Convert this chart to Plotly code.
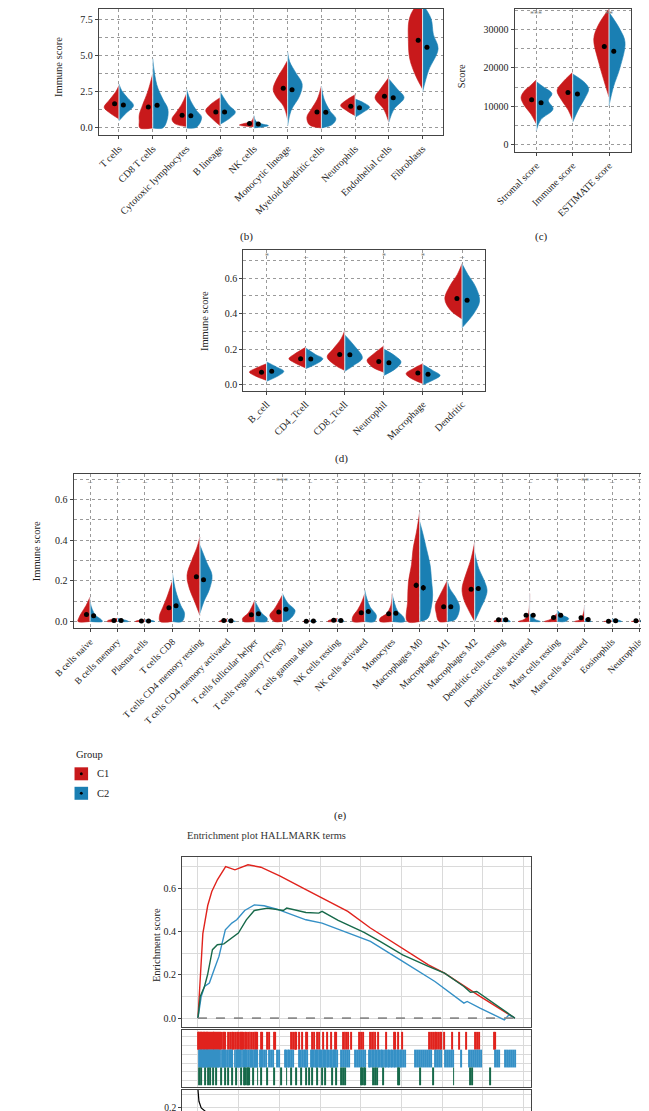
import plotly.graph_objects as go

W, H = 649, 1111
RED = "#C8191B"
BLUE = "#1A7FB3"
CENTER = "#dbe8ef"
GRID = "#9a9a9a"
FRAME = "#444444"
FONT = "Liberation Serif"
TXT = "#222222"

# ------------------------- data -------------------------
# (b)
b_cats = ["T cells", "CD8 T cells", "Cytotoxic lymphocytes", "B lineage", "NK cells",
          "Monocytic lineage", "Myeloid dendritic cells", "Neutrophils", "Endothelial cells", "Fibroblasts"]
b_c1_mean = [1.67, 1.45, 0.88, 1.10, 0.30, 2.75, 1.10, 1.50, 2.20, 6.10]
b_c2_mean = [1.60, 1.58, 0.85, 1.10, 0.27, 2.65, 1.08, 1.40, 2.10, 5.60]
b_se = [0.06, 0.10, 0.06, 0.06, 0.02, 0.08, 0.07, 0.05, 0.06, 0.14]
# violin half profiles: [value, half-width]
b_c1_prof = [
    [[0.62, 0], [1.0, 0.25], [1.43, 0.44], [1.9, 0.3], [2.5, 0.1], [2.95, 0]],
    [[0.0, 0], [0.0, 0.38], [0.5, 0.4], [0.9, 0.4], [1.6, 0.3], [2.5, 0.15], [3.75, 0]],
    [[0.1, 0], [0.3, 0.35], [0.62, 0.43], [1.0, 0.33], [1.6, 0.15], [2.36, 0]],
    [[0.15, 0], [0.6, 0.22], [1.2, 0.43], [1.6, 0.3], [2.1, 0]],
    [[0.08, 0], [0.15, 0.35], [0.2, 0.43], [0.3, 0.3], [0.45, 0.08], [0.8, 0]],
    [[0.6, 0], [1.5, 0.12], [2.2, 0.35], [2.7, 0.43], [3.5, 0.3], [4.2, 0.12], [4.7, 0]],
    [[0.0, 0], [0.2, 0.35], [0.74, 0.43], [1.3, 0.3], [2.0, 0.12], [2.9, 0]],
    [[0.85, 0], [1.2, 0.25], [1.55, 0.43], [1.9, 0.28], [2.3, 0]],
    [[0.4, 0], [1.3, 0.15], [2.1, 0.41], [2.7, 0.25], [3.5, 0]],
    [[2.7, 0], [3.6, 0.2], [4.8, 0.38], [6.0, 0.42], [7.5, 0.4], [8.3, 0.25], [8.9, 0]],
]
b_c2_prof = [
    [[0.5, 0], [1.0, 0.2], [1.55, 0.43], [2.1, 0.25], [2.6, 0.08], [3.05, 0]],
    [[0.0, 0], [0.0, 0.3], [0.5, 0.42], [1.3, 0.45], [2.0, 0.3], [3.0, 0.12], [4.8, 0]],
    [[0.0, 0], [0.05, 0.3], [0.74, 0.45], [1.2, 0.3], [1.9, 0.12], [2.7, 0]],
    [[0.25, 0], [0.7, 0.3], [1.1, 0.45], [1.6, 0.25], [2.5, 0]],
    [[0.0, 0], [0.1, 0.35], [0.16, 0.43], [0.3, 0.2], [0.5, 0.05], [0.85, 0]],
    [[0.15, 0], [1.2, 0.1], [2.2, 0.35], [3.05, 0.43], [3.8, 0.25], [4.6, 0.06], [5.25, 0]],
    [[0.0, 0], [0.2, 0.3], [0.62, 0.43], [1.2, 0.25], [2.0, 0.08], [2.9, 0]],
    [[0.74, 0], [1.1, 0.25], [1.43, 0.43], [1.75, 0.25], [2.0, 0]],
    [[0.4, 0], [1.3, 0.15], [2.1, 0.45], [2.7, 0.25], [3.4, 0]],
    [[2.5, 0], [4.0, 0.18], [5.5, 0.46], [6.5, 0.32], [7.6, 0.25], [8.6, 0]],
]

# (c)
c_cats = ["Stromal score", "Immune score", "ESTIMATE score"]
c_c1_mean = [11700, 13600, 25500]
c_c2_mean = [10900, 13200, 24300]
c_se = [300, 250, 500]
c_c1_prof = [
    [[5450, 0], [8000, 0.15], [10500, 0.35], [12360, 0.42], [14000, 0.33], [15500, 0.15], [16900, 0]],
    [[6300, 0], [9000, 0.12], [11500, 0.3], [14100, 0.43], [16000, 0.3], [18850, 0]],
    [[12400, 0], [17000, 0.15], [22000, 0.3], [27500, 0.42], [31000, 0.3], [35300, 0]],
]
c_c2_prof = [
    [[3700, 0], [6500, 0.12], [9300, 0.46], [11500, 0.33], [13300, 0.43], [15000, 0.2], [16400, 0]],
    [[5900, 0], [9000, 0.15], [12000, 0.33], [14500, 0.44], [16000, 0.35], [18400, 0]],
    [[10200, 0], [15000, 0.12], [20000, 0.3], [26600, 0.44], [30000, 0.3], [34400, 0]],
]
c_sig = ["***", "", "**"]

# (d)
d_cats = ["B_cell", "CD4_Tcell", "CD8_Tcell", "Neutrophil", "Macrophage", "Dendritic"]
d_c1_mean = [0.070, 0.146, 0.170, 0.130, 0.065, 0.485]
d_c2_mean = [0.075, 0.144, 0.168, 0.123, 0.058, 0.475]
d_se = [0.004, 0.004, 0.005, 0.004, 0.004, 0.006]
d_c1_prof = [
    [[0.024, 0], [0.05, 0.3], [0.071, 0.44], [0.09, 0.3], [0.118, 0]],
    [[0.094, 0], [0.125, 0.3], [0.146, 0.43], [0.17, 0.3], [0.21, 0]],
    [[0.08, 0], [0.11, 0.25], [0.156, 0.45], [0.2, 0.3], [0.26, 0.09], [0.305, 0]],
    [[0.07, 0], [0.1, 0.3], [0.137, 0.43], [0.17, 0.28], [0.218, 0]],
    [[0.006, 0], [0.035, 0.3], [0.062, 0.43], [0.09, 0.25], [0.118, 0]],
    [[0.37, 0], [0.42, 0.3], [0.484, 0.44], [0.56, 0.3], [0.62, 0.12], [0.68, 0]],
]
d_c2_prof = [
    [[0.019, 0], [0.05, 0.3], [0.075, 0.44], [0.1, 0.25], [0.128, 0]],
    [[0.09, 0], [0.12, 0.3], [0.146, 0.44], [0.17, 0.25], [0.206, 0]],
    [[0.075, 0], [0.11, 0.24], [0.15, 0.45], [0.22, 0.24], [0.28, 0]],
    [[0.052, 0], [0.09, 0.3], [0.128, 0.44], [0.16, 0.3], [0.2, 0]],
    [[0.0, 0], [0.03, 0.3], [0.052, 0.44], [0.08, 0.25], [0.113, 0]],
    [[0.32, 0], [0.4, 0.3], [0.47, 0.45], [0.55, 0.35], [0.62, 0.15], [0.68, 0]],
]
d_sig = ["*", "–", "–", "*", "*", "–"]

# (e)
e_cats = ["B cells naive", "B cells memory", "Plasma cells", "T cells CD8", "T cells CD4 memory resting",
          "T cells CD4 memory activated", "T cells follicular helper", "T cells regulatory (Tregs)",
          "T cells gamma delta", "NK cells resting", "NK cells activated", "Monocytes", "Macrophages M0",
          "Macrophages M1", "Macrophages M2", "Dendritic cells resting", "Dendritic cells activated",
          "Mast cells resting", "Mast cells activated", "Eosinophils", "Neutrophils"]
e_c1_mean = [0.034, 0.005, 0.002, 0.067, 0.220, 0.005, 0.033, 0.047, 0.001, 0.006, 0.043,
             0.038, 0.178, 0.072, 0.158, 0.008, 0.031, 0.019, 0.018, 0.001, 0.003]
e_c2_mean = [0.028, 0.005, 0.002, 0.077, 0.205, 0.003, 0.038, 0.060, 0.002, 0.005, 0.049,
             0.040, 0.166, 0.073, 0.162, 0.008, 0.030, 0.030, 0.010, 0.003, 0.002]
e_se = [0.003, 0.001, 0.001, 0.004, 0.008, 0.001, 0.003, 0.004, 0.001, 0.001, 0.003,
        0.003, 0.013, 0.004, 0.006, 0.001, 0.003, 0.003, 0.002, 0.001, 0.001]
e_c1_prof = [
    [[0, 0], [0, 0.44], [0.02, 0.4], [0.04, 0.32], [0.08, 0.14], [0.12, 0]],
    [[0, 0], [0, 0.38], [0.006, 0.33], [0.015, 0]],
    [[0, 0], [0, 0.35], [0.003, 0.3], [0.008, 0]],
    [[0, 0], [0, 0.45], [0.03, 0.47], [0.07, 0.35], [0.12, 0.2], [0.2, 0]],
    [[0.03, 0], [0.1, 0.2], [0.16, 0.38], [0.227, 0.47], [0.3, 0.3], [0.36, 0.12], [0.415, 0]],
    [[0, 0], [0, 0.3], [0.005, 0.25], [0.012, 0]],
    [[0, 0], [0, 0.42], [0.015, 0.45], [0.04, 0.25], [0.07, 0.12], [0.105, 0]],
    [[0, 0], [0, 0.3], [0.03, 0.46], [0.06, 0.3], [0.1, 0.12], [0.13, 0]],
    [[0, 0], [0, 0.25], [0.004, 0]],
    [[0, 0], [0, 0.35], [0.006, 0.3], [0.015, 0]],
    [[0, 0], [0, 0.44], [0.023, 0.44], [0.06, 0.25], [0.1, 0.1], [0.137, 0]],
    [[0, 0], [0, 0.45], [0.015, 0.45], [0.04, 0.2], [0.08, 0.05], [0.137, 0]],
    [[0, 0], [0, 0.45], [0.1, 0.44], [0.195, 0.41], [0.28, 0.3], [0.36, 0.24], [0.44, 0.12], [0.54, 0]],
    [[0, 0], [0, 0.3], [0.04, 0.4], [0.08, 0.43], [0.12, 0.3], [0.16, 0.15], [0.2, 0]],
    [[0, 0], [0.05, 0.2], [0.11, 0.4], [0.162, 0.46], [0.22, 0.35], [0.3, 0.15], [0.39, 0]],
    [[0, 0], [0, 0.3], [0.008, 0.2], [0.016, 0]],
    [[0, 0], [0, 0.41], [0.01, 0.2], [0.03, 0.06], [0.137, 0]],
    [[0, 0], [0, 0.46], [0.01, 0.25], [0.04, 0]],
    [[0, 0], [0, 0.36], [0.01, 0.15], [0.047, 0.03], [0.08, 0]],
    [[0, 0], [0, 0.3], [0.004, 0]],
    [[0, 0], [0, 0.3], [0.004, 0]],
]
e_c2_prof = [
    [[0, 0], [0, 0.45], [0.01, 0.4], [0.03, 0.2], [0.06, 0.08], [0.095, 0]],
    [[0, 0], [0, 0.4], [0.006, 0.3], [0.015, 0]],
    [[0, 0], [0, 0.35], [0.003, 0.3], [0.008, 0]],
    [[0, 0], [0, 0.35], [0.04, 0.44], [0.08, 0.3], [0.15, 0.12], [0.235, 0]],
    [[0.04, 0], [0.1, 0.15], [0.16, 0.35], [0.227, 0.44], [0.29, 0.25], [0.375, 0]],
    [[0, 0], [0, 0.3], [0.004, 0.2], [0.01, 0]],
    [[0, 0], [0, 0.42], [0.015, 0.45], [0.04, 0.25], [0.07, 0.12], [0.1, 0]],
    [[0, 0], [0.005, 0.2], [0.03, 0.4], [0.055, 0.46], [0.09, 0.2], [0.137, 0]],
    [[0, 0], [0, 0.25], [0.004, 0]],
    [[0, 0], [0, 0.25], [0.005, 0.2], [0.012, 0]],
    [[0, 0], [0, 0.35], [0.03, 0.42], [0.07, 0.2], [0.11, 0.08], [0.154, 0]],
    [[0, 0], [0, 0.45], [0.023, 0.4], [0.05, 0.2], [0.09, 0.08], [0.13, 0]],
    [[0, 0], [0.015, 0.29], [0.07, 0.42], [0.13, 0.47], [0.2, 0.43], [0.276, 0.38], [0.36, 0.24], [0.44, 0.1], [0.49, 0]],
    [[0, 0], [0.01, 0.3], [0.07, 0.45], [0.12, 0.3], [0.16, 0.1], [0.2, 0]],
    [[0, 0], [0.06, 0.2], [0.12, 0.4], [0.154, 0.45], [0.2, 0.35], [0.26, 0.15], [0.34, 0]],
    [[0, 0], [0, 0.3], [0.008, 0.2], [0.016, 0]],
    [[0, 0], [0, 0.39], [0.01, 0.2], [0.04, 0]],
    [[0, 0], [0, 0.3], [0.015, 0.42], [0.03, 0.2], [0.055, 0]],
    [[0, 0], [0, 0.25], [0.005, 0.15], [0.015, 0]],
    [[0, 0], [0, 0.35], [0.006, 0.25], [0.012, 0]],
    [[0, 0], [0, 0.3], [0.004, 0]],
]
e_sig = ["–", "–", "–", "–", "'", "–", "–", "***", "–", "–", "–", "–", "–", "–", "–", "–", "–", "*", "**", "–", "–"]

# GSEA running enrichment scores (rank, ES)
n_genes = 19460
red_rank = [0, 140, 300, 600, 850, 1200, 1700, 2270, 3070, 3860, 5050, 6630, 8610, 9200, 10590,
            12570, 14150, 15140, 16530, 17320, 19460]
red_es = [0, 0.21, 0.39, 0.52, 0.585, 0.64, 0.70, 0.685, 0.708, 0.697, 0.656, 0.593, 0.516, 0.493,
          0.416, 0.323, 0.246, 0.208, 0.139, 0.10, 0.0]
blue_rank = [0, 200, 400, 700, 990, 1290, 1680, 2080, 2380, 2870, 3460, 4060, 4850, 5840, 6630, 7620,
             8610, 9600, 10590, 12570, 14550, 16330, 16530, 17320, 18310, 18810, 19100, 19460]
blue_es = [0, 0.10, 0.146, 0.162, 0.223, 0.285, 0.408, 0.439, 0.454, 0.497, 0.523, 0.519, 0.503, 0.477,
           0.454, 0.439, 0.411, 0.385, 0.354, 0.262, 0.169, 0.069, 0.077, 0.046, 0.008, -0.008, 0.015, 0.0]
green_rank = [0, 140, 400, 590, 890, 1190, 1590, 2080, 2480, 2970, 3460, 4260, 5240, 5450, 6630, 7420,
              7620, 8610, 9990, 10200, 11180, 12570, 14150, 15140, 16330, 16730, 17120, 19460]
green_es = [0, 0.1, 0.146, 0.2, 0.316, 0.339, 0.343, 0.37, 0.393, 0.454, 0.497, 0.508, 0.497, 0.508,
            0.488, 0.485, 0.493, 0.451, 0.4, 0.396, 0.354, 0.292, 0.239, 0.208, 0.146, 0.119, 0.123, 0.0]

# hit positions (gene ranks)
red_hits = [0, 40, 80, 120, 170, 210, 260, 300, 350, 400, 440, 500, 540, 590, 640, 690, 740, 790, 850,
            900, 960, 1010, 1080, 1130, 1190, 1250, 1310, 1380, 1450, 1520, 1600, 1680, 1840, 1980, 2080,
            2180, 2280, 2380, 2480, 2580, 2650, 2720, 2800, 2880, 2960, 3050, 3170, 3270, 3370, 3480,
            3560, 3660, 3860, 3960, 4220, 4350, 4650, 4750, 5740, 5840, 5940, 6040, 6240, 6400, 6630,
            6730, 6990, 7130, 7330, 7420, 7660, 7920, 8180, 8410, 8510, 8907, 9005, 9104, 9203, 9401,
            9895, 9994, 10152, 10588, 10687, 10786, 10885, 11083, 11538, 12073, 12132, 12270, 12528,
            14200, 14300, 14450, 14550, 14650, 14750, 14850, 14950, 15140, 15580, 16030, 16490, 17020,
            17120, 17260, 18210, 18270]
blue_hits = [55, 110, 170, 230, 300, 350, 420, 480, 540, 600, 660, 730, 790, 850, 920, 990, 1050, 1120,
             1190, 1250, 1320, 1390, 1460, 1530, 1600, 1680, 1760, 1900, 1970, 2040, 2110, 2250, 2320,
             2390, 2460, 2530, 2600, 2680, 2750, 2820, 2900, 2980, 3050, 3200, 3270, 3350, 3420, 3500,
             3580, 3650, 3800, 3880, 3960, 4050, 4200, 4355, 4480, 4600, 4850, 4970, 5340, 5430, 5520,
             5610, 5700, 5830, 6200, 6300, 6400, 6500, 6600, 6690, 6935, 7010, 7090, 7170, 7250, 7330,
             7410, 7500, 7580, 7660, 7740, 7830, 7920, 8010, 8100, 8190, 8280, 8370, 8450, 8530, 8780,
             8900, 9020, 9150, 9270, 9640, 9760, 9880, 10000, 10130, 10250, 10500, 10590, 10680, 10770,
             10860, 10950, 11040, 11130, 11220, 11310, 11400, 11490, 11580, 11670, 11760, 11850, 11940,
             12030, 12120, 12210, 12300, 12400, 12500, 12600, 12710, 13330, 13450, 13570, 13690, 13800,
             13920, 14050, 14180, 14310, 14550, 14680, 14800, 14920, 15170, 15290, 15410, 15530, 15660,
             16150, 16640, 16760, 16880, 17000, 17130, 17250, 17380, 18240, 18370, 18490, 18850, 18970,
             19090, 19220, 19340, 19470]
green_hits = [59, 220, 457, 614, 772, 930, 1089, 1445, 1682, 1880, 2118, 2336, 2672, 2830, 2909, 2989,
              3068, 3167, 3365, 3662, 3860, 4256, 4652, 5087, 5443, 5740, 6037, 6334, 6631, 6829, 7027,
              7324, 7621, 7819, 8215, 8512, 8808, 8907, 9006, 10035, 10094, 10193, 10292, 10748, 10886,
              10985, 11380, 12272, 12371, 13658, 14450, 15697, 16726, 16825, 17914]

# ranked list metric
metric_rank = [0, 20, 60, 200, 500, 1100, 1900, 3000, 5000, 8000]
metric_val = [0.272, 0.262, 0.224, 0.197, 0.181, 0.171, 0.160, 0.150, 0.130, 0.100]

GS_RED = "#E0231D"
GS_BLUE = "#3590C6"
GS_GREEN = "#17694A"


# ------------------------- helpers -------------------------
def px(x):
    return x / W


def py(y):
    return 1 - y / H


fig = go.Figure()


def add_violins(c1_prof, c2_prof, c1_mean, c2_mean, se, xa, ya):
    n = len(c1_prof)
    for i in range(n):
        for prof, side, col in ((c1_prof[i], -1, RED), (c2_prof[i], 1, BLUE)):
            ys = [p[0] for p in prof]
            xs = [i + side * p[1] for p in prof]
            fig.add_trace(go.Scatter(
                x=xs, y=ys, fill="toself", fillcolor=col, mode="lines",
                line=dict(color=col, width=0.6, shape="spline", smoothing=1.0),
                xaxis=xa, yaxis=ya, hoverinfo="skip", showlegend=False))
        lo = min(c1_prof[i][0][0], c2_prof[i][0][0])
        hi = max(c1_prof[i][-1][0], c2_prof[i][-1][0])
        fig.add_trace(go.Scatter(x=[i, i], y=[lo, hi], mode="lines",
                                 line=dict(color=CENTER, width=1),
                                 xaxis=xa, yaxis=ya, hoverinfo="skip", showlegend=False))
    for means, off in ((c1_mean, -0.13), (c2_mean, 0.13)):
        fig.add_trace(go.Scatter(
            x=[i + off for i in range(n)], y=means, mode="markers",
            marker=dict(color="black", size=5),
            error_y=dict(type="data", array=se, color="black", thickness=1.5, width=0),
            xaxis=xa, yaxis=ya, hoverinfo="skip", showlegend=False))


add_violins(b_c1_prof, b_c2_prof, b_c1_mean, b_c2_mean, b_se, "x", "y")
add_violins(c_c1_prof, c_c2_prof, c_c1_mean, c_c2_mean, c_se, "x2", "y2")
add_violins(d_c1_prof, d_c2_prof, d_c1_mean, d_c2_mean, d_se, "x3", "y3")
add_violins(e_c1_prof, e_c2_prof, e_c1_mean, e_c2_mean, e_se, "x4", "y4")

# GSEA curves
for rk, es, col in ((red_rank, red_es, GS_RED), (blue_rank, blue_es, GS_BLUE), (green_rank, green_es, GS_GREEN)):
    fig.add_trace(go.Scatter(x=rk, y=es, mode="lines", line=dict(color=col, width=1.4),
                             xaxis="x5", yaxis="y5", hoverinfo="skip", showlegend=False))

for hits, base, col in ((red_hits, 2, GS_RED), (blue_hits, 1, GS_BLUE), (green_hits, 0, GS_GREEN)):
    fig.add_trace(go.Bar(x=hits, y=[1] * len(hits), base=base, width=60,
                         marker=dict(color=col, line=dict(width=0)),
                         xaxis="x6", yaxis="y6", hoverinfo="skip", showlegend=False))

fig.add_trace(go.Scatter(x=metric_rank, y=metric_val, mode="lines", line=dict(color="black", width=1.2),
                         xaxis="x7", yaxis="y7", hoverinfo="skip", showlegend=False))

# ------------------------- axes -------------------------
tickfont = dict(family=FONT, size=10, color=TXT)


def cat_x(dom, n, cats, anchor, size=10):
    return dict(domain=dom, range=[-0.6, n - 1 + 0.6], tickmode="array", tickvals=list(range(n)),
                ticktext=cats, tickangle=-45, tickfont=dict(family=FONT, size=size, color=TXT),
                showgrid=True, gridcolor=GRID, griddash="dot", gridwidth=0.8,
                showline=True, mirror=True, linecolor=FRAME, linewidth=1,
                ticks="outside", ticklen=3, tickcolor=FRAME, zeroline=False, anchor=anchor)


def val_y(dom, rng, dtick, minor, fmt, anchor):
    return dict(domain=dom, range=rng, tick0=0, dtick=dtick, tickformat=fmt, tickfont=tickfont,
                showgrid=True, gridcolor=GRID, griddash="dot", gridwidth=0.8,
                minor=dict(tick0=0, dtick=minor, showgrid=True, gridcolor=GRID, griddash="dot", gridwidth=0.8),
                showline=True, mirror=True, linecolor=FRAME, linewidth=1,
                ticks="outside", ticklen=3, tickcolor=FRAME, zeroline=False, anchor=anchor)


GS_GRID = "#DADADA"


def gs_x(dom, anchor):
    return dict(domain=dom, range=[-974, 20451], tick0=0, dtick=2500, showticklabels=False, ticks="",
                showgrid=True, gridcolor=GS_GRID, gridwidth=1, showline=True, mirror=True,
                linecolor=FRAME, linewidth=1, zeroline=False, anchor=anchor)


fig.update_layout(
    width=W, height=H, margin=dict(l=0, r=0, t=0, b=0),
    paper_bgcolor="white", plot_bgcolor="white", barmode="overlay", showlegend=False,
    xaxis=cat_x([px(73), px(428)], len(b_cats), b_cats, "y"),
    yaxis=val_y([py(126), py(0)], [-0.486, 8.264], 2.5, 1.25, ".1f", "x"),
    xaxis2=cat_x([px(502), px(622)], len(c_cats), c_cats, "y2"),
    yaxis2=val_y([py(143), py(0)], [-1815, 35261], 10000, 5000, "d", "x2"),
    xaxis3=cat_x([px(222), px(472)], len(d_cats), d_cats, "y3"),
    yaxis3=val_y([py(382), py(241)], [-0.0337, 0.759], 0.2, 0.1, ".1f", "x3"),
    xaxis4=cat_x([px(47), px(648)], len(e_cats), e_cats, "y4", size=9.5),
    yaxis4=val_y([py(620), py(465)], [-0.0344, 0.728], 0.2, 0.1, ".1f", "x4"),
    xaxis5=gs_x([px(159), px(519)], "y5"),
    yaxis5=dict(domain=[py(1019), py(849)], range=[-0.0415, 0.743], tick0=0, dtick=0.2, tickformat=".1f",
                tickfont=tickfont, showgrid=True, gridcolor=GS_GRID, gridwidth=1,
                minor=dict(tick0=0, dtick=0.1, showgrid=True, gridcolor=GS_GRID, gridwidth=1),
                showline=True, mirror=True, linecolor=FRAME, linewidth=1, ticks="outside", ticklen=3,
                tickcolor=FRAME, zeroline=False, anchor="x5"),
    xaxis6=gs_x([px(159), px(519)], "y6"),
    yaxis6=dict(domain=[py(1079), py(1022)], range=[-0.1, 3.1], tick0=0.25, dtick=0.5, showticklabels=False,
                ticks="", showgrid=True, gridcolor=GS_GRID, gridwidth=1, showline=True, mirror=True,
                linecolor=FRAME, linewidth=1, zeroline=False, anchor="x6"),
    xaxis7=gs_x([px(159), px(519)], "y7"),
    yaxis7=dict(domain=[0, py(1082)], range=[0.153, 0.269], tick0=0, dtick=0.1, tickformat=".1f",
                tickfont=dict(family=FONT, size=9.5, color=TXT), showgrid=True, gridcolor=GS_GRID, gridwidth=1,
                minor=dict(tick0=0, dtick=0.05, showgrid=True, gridcolor=GS_GRID, gridwidth=1),
                showline=True, mirror=True, linecolor=FRAME, linewidth=1, ticks="outside", ticklen=3,
                tickcolor=FRAME, zeroline=False, anchor="x7"),
)

# zero dashed line in GSEA
fig.add_shape(type="line", xref="x5", yref="y5", x0=0, x1=n_genes, y0=0, y1=0,
              line=dict(color="#8a8a8a", width=1.6, dash="dash"))

# ------------------------- annotations -------------------------
ann = []


def txt(x, y, s, size=10.5, angle=0, xanchor="center", yanchor="middle", color=TXT):
    ann.append(dict(x=px(x), y=py(y), xref="paper", yref="paper", text=s, showarrow=False,
                    font=dict(family=FONT, size=size, color=color), textangle=angle,
                    xanchor=xanchor, yanchor=yanchor))


txt(32, 58, "Immune score", angle=-90)
txt(448, 67, "Score", angle=-90)
txt(182, 312, "Immune score", angle=-90)
txt(9, 543, "Immune score", angle=-90)
txt(132, 937, "Enrichment score", angle=-90)

txt(225, 228, "(b)", size=11)
txt(530, 228, "(c)", size=11)
txt(323, 450, "(d)", size=11)
txt(322, 807, "(e)", size=11)
txt(162, 827, "Entrichment plot HALLMARK terms", size=10.5, xanchor="left", color="#333333")

for i, s in enumerate(c_sig):
    if s:
        ann.append(dict(x=i, y=1.0, xref="x2", yref="paper", text=s, showarrow=False,
                        font=dict(family=FONT, size=8, color="#777777"), yanchor="top",
                        borderpad=0))
for i, s in enumerate(d_sig):
    ann.append(dict(x=i, y=0.72, xref="x3", yref="y3", text=s, showarrow=False,
                    font=dict(family=FONT, size=8, color="#777777"), yanchor="middle"))
for i, s in enumerate(e_sig):
    ann.append(dict(x=i, y=0.69, xref="x4", yref="y4", text=s, showarrow=False,
                    font=dict(family=FONT, size=8, color="#777777"), yanchor="middle"))

# legend
txt(47, 746, "Group", size=10.5, xanchor="left")
for yc, col, lab in ((765.5, RED, "C1"), (785, BLUE, "C2")):
    fig.add_shape(type="rect", xref="paper", yref="paper", x0=px(48), x1=px(62),
                  y0=py(yc + 6.5), y1=py(yc - 6.5), fillcolor=col, line=dict(width=0))
    fig.add_shape(type="circle", xref="paper", yref="paper", x0=px(53.5), x1=px(56.5),
                  y0=py(yc + 1.5), y1=py(yc - 1.5), fillcolor="black", line=dict(width=0))
    txt(69, yc, lab, size=10.5, xanchor="left")

fig.update_layout(annotations=ann)

fig.write_html("out.html")
